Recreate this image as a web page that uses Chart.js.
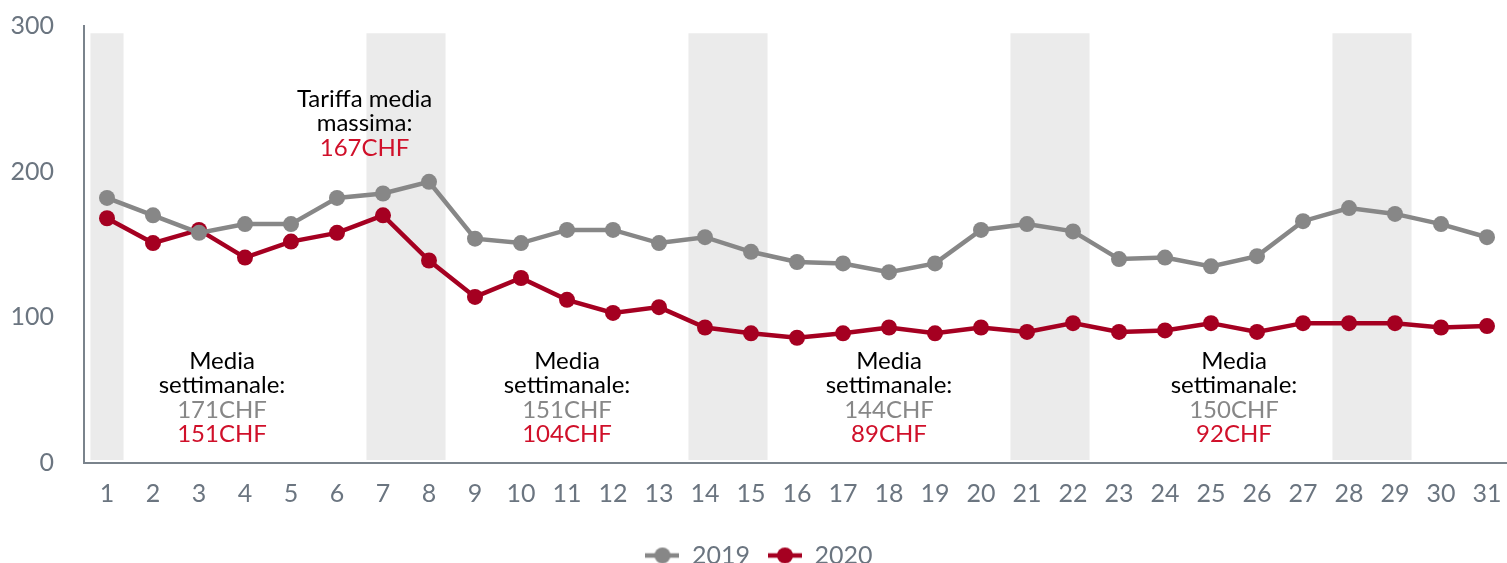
<!DOCTYPE html>
<html>
<head>
<meta charset="utf-8">
<script src="https://cdn.jsdelivr.net/npm/chart.js@4/dist/chart.umd.min.js"></script>
<style>
  html, body { margin: 0; padding: 0; background: #fff; overflow: hidden; }
  #wrap { position: relative; width: 1518px; height: 578px; }
</style>
</head>
<body>
<div id="wrap"><canvas id="js-chart-tariffe"></canvas></div>
<script>
// Giorni del mese
const days = ['1','2','3','4','5','6','7','8','9','10','11','12','13','14','15','16','17','18','19','20','21','22','23','24','25','26','27','28','29','30','31'];

// Tariffa media giornaliera (CHF)
const values2019 = [182, 170, 158, 164, 164, 182, 185, 193, 154, 151, 160, 160, 151, 155, 145, 138, 137, 131, 137, 160, 164, 159, 140, 141, 135, 142, 166, 175, 171, 164, 155];
const values2020 = [168, 151, 160, 141, 152, 158, 170, 139, 114, 127, 112, 103, 107, 93, 89, 86, 89, 93, 89, 93, 90, 96, 90, 91, 96, 90, 96, 96, 96, 93, 94];

// Fine settimana (bande grigie): primo e ultimo giorno
const weekendStart = [1, 7, 14, 21, 28];
const weekendEnd = [1, 8, 15, 22, 29];
const weekendTop = 295;

const yTicks = [0, 100, 200, 300];

// Annotazioni: posizione (giorno, valore) e righe di testo
const noteDays = [3.5, 11, 18, 25.5];
const weekAvg2019 = ['171CHF', '151CHF', '144CHF', '150CHF'];
const weekAvg2020 = ['151CHF', '104CHF', '89CHF', '92CHF'];
const maxNote = { day: 6.6, value: 250, lines: ['Tariffa media', 'massima:'], amount: '167CHF' };

const grey = '#878787';
const red = '#a50021';
const textRed = '#d0102a';
const tickColor = '#6b7580';

function legendIcon(color) {
  const c = document.createElement('canvas');
  c.width = 34; c.height = 18;
  const ctx = c.getContext('2d');
  ctx.strokeStyle = color;
  ctx.lineWidth = 4.5;
  ctx.beginPath(); ctx.moveTo(0, 9); ctx.lineTo(34, 9); ctx.stroke();
  ctx.fillStyle = color;
  ctx.beginPath(); ctx.arc(17, 9, 8, 0, Math.PI * 2); ctx.fill();
  return c;
}

// Bande dei weekend, disegnate sotto le linee
const weekendBands = {
  id: 'weekendBands',
  beforeDatasetsDraw(chart) {
    const x = chart.scales.x, y = chart.scales.y, ctx = chart.ctx;
    const half = (x.getPixelForValue(1) - x.getPixelForValue(0)) * 0.36;
    ctx.save();
    ctx.fillStyle = '#ebebeb';
    weekendStart.forEach((s, i) => {
      let left = Math.max(x.getPixelForValue(s - 1) - half, chart.chartArea.left + 2);
      let right = x.getPixelForValue(weekendEnd[i] - 1) + half;
      let top = y.getPixelForValue(weekendTop);
      let bottom = y.getPixelForValue(0) - 3;
      ctx.fillRect(left, top, right - left, bottom - top);
    });
    ctx.restore();
  }
};

// Testi delle medie
const notes = {
  id: 'notes',
  afterDatasetsDraw(chart) {
    const x = chart.scales.x, y = chart.scales.y, ctx = chart.ctx;
    const lh = 24.5;
    ctx.save();
    ctx.font = '24px Lato';
    ctx.textAlign = 'center';
    ctx.textBaseline = 'middle';
    noteDays.forEach((d, i) => {
      const px = x.getPixelForValue(d - 1);
      const py = y.getPixelForValue(70);
      const rows = [['Media', '#000'], ['settimanale:', '#000'], [weekAvg2019[i], grey], [weekAvg2020[i], textRed]];
      rows.forEach((r, k) => {
        ctx.fillStyle = r[1];
        ctx.fillText(r[0], px, py + k * lh);
      });
    });
    const mx = x.getPixelForValue(maxNote.day - 1);
    const my = y.getPixelForValue(maxNote.value);
    ctx.fillStyle = '#000';
    maxNote.lines.forEach((t, k) => ctx.fillText(t, mx, my + k * lh));
    ctx.fillStyle = textRed;
    ctx.fillText(maxNote.amount, mx, my + maxNote.lines.length * lh);
    ctx.restore();
  }
};

Chart.defaults.font.family = 'Lato';
Chart.defaults.color = tickColor;

new Chart(document.getElementById('js-chart-tariffe'), {
  type: 'line',
  data: {
    labels: days,
    datasets: [
      {
        label: '2019',
        data: values2019,
        borderColor: grey,
        backgroundColor: grey,
        pointBackgroundColor: grey,
        pointBorderColor: grey,
        borderWidth: 4.5,
        pointRadius: 8,
        pointBorderWidth: 0,
        tension: 0
      },
      {
        label: '2020',
        data: values2020,
        borderColor: red,
        backgroundColor: red,
        pointBackgroundColor: red,
        pointBorderColor: red,
        borderWidth: 4.5,
        pointRadius: 8,
        pointBorderWidth: 0,
        tension: 0
      }
    ]
  },
  options: {
    responsive: true,
    maintainAspectRatio: false,
    animation: false,
    layout: { padding: 0 },
    scales: {
      x: {
        offset: true,
        grid: { display: false, drawTicks: false },
        border: { display: true, color: '#7a838c', width: 2 },
        ticks: { font: { size: 25 }, padding: 16, color: tickColor, maxRotation: 0, autoSkip: false }
      },
      y: {
        min: 0,
        max: 300,
        afterBuildTicks: (scale) => { scale.ticks = yTicks.map(v => ({ value: v })); },
        afterFit: (scale) => {
          scale.width = 84;
          scale.paddingTop = 26;
          scale.paddingBottom = 0;
        },
        grid: { display: false, drawTicks: false },
        border: { display: true, color: '#7a838c', width: 2 },
        ticks: { font: { size: 25 }, padding: 30, color: tickColor }
      }
    },
    plugins: {
      legend: {
        position: 'bottom',
        labels: {
          usePointStyle: true,
          pointStyleWidth: 34,
          padding: 18,
          font: { size: 25 },
          color: tickColor,
          generateLabels: (chart) => chart.data.datasets.map((ds, i) => ({
            text: ds.label,
            pointStyle: legendIcon(ds.borderColor),
            fillStyle: ds.borderColor,
            strokeStyle: ds.borderColor,
            lineWidth: 0,
            fontColor: tickColor,
            datasetIndex: i
          }))
        }
      },
      tooltip: { enabled: false }
    }
  },
  plugins: [weekendBands, notes]
});
</script>
</body>
</html>
